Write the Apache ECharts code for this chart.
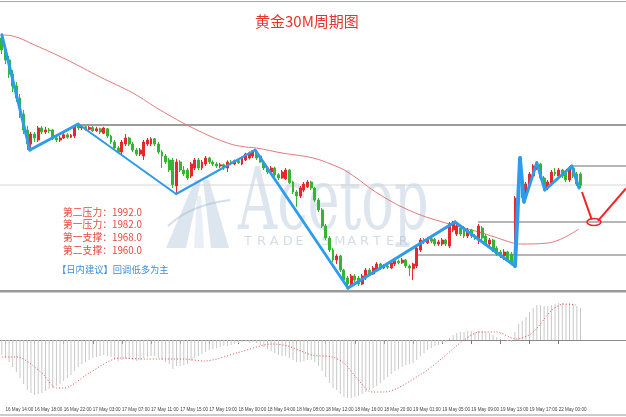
<!DOCTYPE html>
<html><head><meta charset="utf-8">
<script src="https://cdn.jsdelivr.net/npm/echarts@6/dist/echarts.min.js"></script>
<style>html,body{margin:0;padding:0;background:#fff}#c{width:626px;height:417px}</style>
</head><body><div id="c"></div>
<script>
// ---------- data ----------
const titleText = '黄金30M周期图';
// candles: [open, close, low, high]
const candles = [
[2014,2011,2010,2014.8],[2011,2008.5,2007.5,2012],[2008.5,2005,2004,2009.5],[2005,2002,2000.5,2006],
[2002,1999,1998,2003],[1999,1995,1994,2000],[1995,1991,1990,1996],[1991,1987.5,1986,1992],
[1987.5,1990,1986.5,1990.5],[1990,1989,1988,1990.5],[1988.5,1991.5,1988,1992],[1991.5,1990.5,1990,1992],
[1990.5,1991,1990,1991.8],[1991,1990.8,1990.2,1991.5],[1991,1989,1988.5,1991.3],[1989,1988.5,1988,1989.5],
[1988.5,1989,1988,1989.5],[1989,1989.8,1988.8,1990.2],[1989.8,1989.2,1988.8,1990.2],[1989.2,1989.7,1989,1990],
[1989.5,1992,1989,1992.3],[1992,1991.5,1991,1992.5],[1991.5,1991.8,1991,1992.2],[1991.8,1991.2,1990.8,1992],
[1991.2,1991.6,1990.6,1992],[1991.6,1990.8,1990.5,1992],[1990.8,1991.3,1990.5,1991.8],[1991.3,1990.5,1990,1991.6],
[1990.2,1991.5,1990,1991.8],[1991.3,1989.5,1989,1991.5],[1989.5,1988,1987.5,1989.8],[1988,1986.5,1986,1988.5],
[1986.5,1985.5,1985,1987],[1985.5,1988,1985,1988.5],[1987.5,1989,1987,1990],[1989,1987.5,1987,1989.3],
[1987.5,1986,1985.5,1988],[1986,1985,1984.5,1986.5],[1985,1986,1984.5,1986.5],[1984.5,1988,1983.5,1988.5],
[1987.5,1988.5,1987,1989],[1987.5,1988.8,1987,1989.2],[1988.8,1987.5,1987,1989],[1987.5,1985.5,1985,1988],
[1985.5,1984.5,1981.5,1986],[1984.5,1983,1982.5,1985],[1983.5,1981,1980.5,1984],[1983.5,1977.3,1976.5,1984],
[1977,1983,1975,1983.8],[1983,1981,1980.5,1983.5],[1981,1980,1979.5,1982],[1981,1979,1978.5,1981.5],
[1979.5,1982.5,1979,1983],[1981.5,1983.5,1981,1984],[1983.5,1981.5,1981,1984],[1981.5,1983,1981,1983.5],
[1982.5,1984,1982,1984.5],[1984,1983,1982.5,1984.3],[1983,1982.5,1982,1983.4],[1982.5,1982,1981.5,1983],
[1982,1982.3,1981.5,1982.8],[1982.3,1981.5,1981,1982.6],[1981.5,1983,1980.5,1983.4],[1983,1982.8,1982.3,1983.5],
[1982.5,1983.3,1982.2,1983.6],[1983.3,1982.8,1982.5,1983.6],[1982.5,1984,1982.2,1984.3],[1983.5,1985,1983.2,1985.3],
[1984,1985.3,1983.6,1985.6],[1984.5,1985.8,1984,1986],[1985.5,1984,1983.5,1985.8],[1984.5,1983,1982.8,1984.8],
[1983,1981.5,1981,1983.3],[1981.5,1980.5,1980,1981.8],[1980.5,1981.5,1980,1982],[1981.5,1979.8,1979.2,1981.8],
[1979.8,1979,1978.5,1980.2],[1979,1980.5,1978.8,1981],[1978.8,1981,1978.5,1981.5],[1981,1977.8,1977.5,1981.2],
[1978,1975.5,1975,1978.3],[1975.5,1974.5,1971.8,1976],[1974.5,1976.5,1974,1977],[1976,1977.5,1975.5,1978],
[1976.8,1978,1976.5,1978.5],[1978,1976.5,1976,1978.3],[1976.5,1973.5,1973,1976.8],[1973.5,1971,1970.5,1974],
[1971,1967,1966.5,1971.5],[1967,1964,1963.5,1967.5],[1964,1961,1960.5,1964.5],[1961,1958.5,1958,1961.5],
[1958.5,1959.5,1957.5,1960],[1959.5,1956,1955.5,1959.8],[1956,1953.5,1953,1956.3],[1954,1952.5,1951.5,1954.5],
[1952.5,1954.5,1952,1955],[1954.5,1953.5,1953,1955],[1954,1952.5,1952,1954.5],[1952.5,1954.5,1952.2,1955],
[1954,1956,1953.5,1956.5],[1956,1955,1954.5,1956.5],[1955,1956.5,1954.8,1957],[1956,1957.5,1955.5,1958],
[1957.5,1956.5,1956,1957.8],[1956.5,1957,1956.2,1957.5],[1957,1956.7,1956.2,1957.5],[1956.5,1957.8,1956.2,1958.2],
[1957.5,1958.3,1957,1958.6],[1958.2,1957.8,1957.4,1958.6],[1957.8,1958.5,1957.5,1959],[1958.5,1957,1956.5,1958.8],
[1957,1956.5,1954.5,1957.4],[1956.3,1957.5,1953.5,1957.8],[1957,1961.5,1956.5,1962],[1961,1963.5,1960.5,1964],
[1963.5,1963,1962.5,1964],[1962.8,1963.8,1962.5,1964.3],[1963.8,1963.2,1962.7,1964.2],[1963.6,1962.5,1962,1964],
[1962.5,1963,1962,1963.5],[1962.5,1963.5,1962,1964],[1963.5,1962.5,1962,1963.8],[1962,1967.5,1961.5,1968],
[1966,1967.8,1965.5,1968.3],[1965,1967,1964.5,1967.5],[1966.5,1965,1964.5,1967],[1966.5,1964.5,1964,1967],
[1964.5,1966,1964,1966.5],[1966,1964.5,1964,1966.3],[1964.5,1964,1963.5,1965],[1963.5,1967,1962.5,1967.5],
[1966.5,1964,1963.5,1967],[1964.5,1962.5,1962,1965],[1962.5,1963.5,1962,1964],[1963.5,1961,1960.5,1963.8],
[1961.5,1960,1959.5,1962],[1960.5,1959.5,1959,1961],[1959.5,1960.5,1958.5,1961.2],[1960.5,1958.5,1958,1960.8],
[1960,1957.8,1957.2,1960.5],[1957.8,1974,1957,1974.5],[1973.5,1978,1973,1984],[1977.5,1974,1973,1978],
[1974,1977.5,1973.5,1978],[1977,1980,1976.5,1980.5],[1979.5,1982,1979,1982.5],[1981.5,1982.5,1981,1983],
[1982.5,1979,1978.5,1982.8],[1979,1976.5,1976,1979.5],[1976.5,1978,1976,1978.5],[1977.5,1980.5,1977,1981],
[1980.5,1980,1979.5,1981.5],[1979.5,1981,1979,1981.5],[1981,1979.5,1979,1981.3],[1980.5,1978.5,1978,1981],
[1978.5,1981.5,1978,1982],[1981.5,1979.5,1979,1982],[1980,1977.5,1977,1980.5],[1980,1977.2,1976.5,1980.5]
];
// moving average read at points: [bar index, price]
const maPoints = [[0,2014.75],[3,2014.5],[9,2012.25],[18,2008.5],[27,2004.25],[36,2000.25],[43.5,1996],[52.5,1991.5],
[62,1987.75],[67,1986.75],[70,1986.5],[77,1985.25],[85.5,1984],[91,1982.25],[95,1980.5],[104,1974.75],[113,1970.5],
[122,1967.75],[132,1965.25],[140.5,1962.75],[142.5,1962.5],[150,1962.75],[158.5,1966.25]];
// blue swing line vertices: [bar index, price]
const swingPoints = [[0,2014.8],[7.7,1986],[21,1992.5],[47.9,1975],[69.6,1986],[95.1,1951.5],[124.5,1968],
[141,1957],[142.4,1984],[143.5,1973],[147,1982.8],[149.2,1976],[156.6,1982],[158.6,1976.5]];
const swingWidths = [3,3,2,2.2,2.8,3.2,3,4,3.5,3,3,3,3];
// horizontal levels: start bar index, price
const levelStarts = [21.5, -0.5, 156.6, 130.8, 113.8];
const levelPrices = [1992.25, 1977.25, 1982, 1968, 1959.75];
// projected red path
const projDown = [[159.4,1975.5],[162.1,1968.6]];
const projUp = [[163.8,1968.3],[171.5,1976.4]];
const targetPoint = [162.7, 1968];
// MACD histogram per bar
const macdHist = [-1.5,-1.8,-2.2,-2.7,-3.2,-3.8,-4.4,-5.0,-5.3,-5.5,-5.4,-5.3,-5.1,-4.9,-4.8,-4.6,-4.4,-4.1,-3.8,-3.5,
-3.1,-2.7,-2.4,-2.2,-2.0,-1.8,-1.7,-1.6,-1.5,-1.6,-1.7,-1.9,-2.1,-2.0,-1.9,-1.9,-2.0,-2.1,-2.0,-1.8,
-1.7,-1.6,-1.6,-1.8,-2.0,-2.2,-2.4,-2.9,-2.6,-2.6,-2.5,-2.4,-2.1,-1.8,-1.6,-1.4,-1.2,-1.0,-0.9,-0.8,
-0.7,-0.6,-0.6,-0.5,-0.4,-0.3,-0.2,-0.15,-0.3,-0.2,-0.3,-0.5,-0.7,-0.9,-1.1,-1.3,-1.5,-1.6,-1.6,-1.8,
-2.0,-2.2,-2.2,-2.1,-2.0,-2.0,-2.2,-2.6,-3.1,-3.7,-4.3,-4.8,-5.0,-5.4,-5.7,-5.8,-5.8,-5.7,-5.6,-5.4,
-5.2,-5.0,-4.8,-4.6,-4.3,-4.0,-3.7,-3.4,-3.1,-2.9,-2.7,-2.5,-2.4,-2.3,-2.0,-1.6,-1.3,-1.0,-0.8,-0.6,
-0.5,-0.3,-0.2,0.2,0.5,0.7,0.8,0.8,0.9,0.9,0.8,0.9,0.9,0.8,0.7,0.5,0.3,0.1,0.0,-0.1,
-0.2,0.8,1.6,1.9,2.3,2.8,3.2,3.5,3.5,3.4,3.4,3.5,3.6,3.7,3.7,3.6,3.7,3.6,3.4,3.2];
// MACD signal read at points: [bar index, value]
const signalPoints = [[0,-1.7],[4,-1.7],[11,-3.3],[15,-4.8],[17,-4.8],[24,-3.3],[32.5,-1.8],[39,-1.9],[50,-1.9],
[55.5,-2.1],[65.5,-1.2],[74.2,-0.4],[78.6,-0.6],[85.2,-1.5],[90.7,-1.7],[94,-2.3],[97.3,-3.7],[101.7,-5.2],[105,-5.2],
[114.9,-3.5],[120.4,-2],[127,0],[131.4,0.8],[135.8,0.8],[141.3,0.1],[145.7,0.7],[151.2,3],[154.5,3.6],[157.7,3.5]];
// time tick labels and their bar indices
const timeLabels = ['16 May 14:00','16 May 18:00','16 May 22:00','17 May 03:00','17 May 07:00','17 May 11:00',
'17 May 15:00','17 May 19:00','18 May 00:00','18 May 04:00','18 May 08:00','18 May 12:00','18 May 16:00',
'18 May 20:00','19 May 01:00','19 May 05:00','19 May 09:00','19 May 13:00','19 May 17:00','22 May 00:00'];
const labelBars = timeLabels.map((_, k) => 1 + 8 * k);
const totalSlots = 172;
const levels = ['第二压力：1992.0','第一压力：1982.0','第一支撑：1968.0','第二支撑：1960.0'];
const advice = '【日内建议】回调低多为主';
const watermark = 'Acetop';
const watermarkSub = 'TRADE SMARTER';

// ---------- chart ----------
const cats = [];
for (let i = 0; i < totalSlots; i++) {
  const k = labelBars.indexOf(i);
  cats.push(k >= 0 ? timeLabels[k] : 'b' + i);
}
const isLabel = (i) => labelBars.indexOf(i) >= 0;

const series = [];
series.push({
  type: 'candlestick', xAxisIndex: 0, yAxisIndex: 0, data: candles, barWidth: 2.4, z: 3,
  itemStyle: { color: '#e8262b', color0: '#35b533', borderColor: '#e8262b', borderColor0: '#35b533', borderWidth: 1 }
});
series.push({
  type: 'line', xAxisIndex: 1, yAxisIndex: 0, data: maPoints, smooth: 0.4, symbol: 'none', z: 2,
  lineStyle: { color: '#e47a7a', width: 1 }
});
levelStarts.forEach((s, i) => {
  const first = i === 0, cur = i === 1;
  series.push({
    type: 'line', xAxisIndex: 1, yAxisIndex: 0, symbol: 'none', z: 1,
    data: [[s, levelPrices[i]], [totalSlots - 0.5, levelPrices[i]]],
    lineStyle: { color: cur ? '#d6d6d6' : '#9c9c9c', width: first ? 2 : (cur ? 1 : 1.5) }
  });
});
for (let i = 0; i < swingPoints.length - 1; i++) {
  series.push({
    type: 'line', xAxisIndex: 1, yAxisIndex: 0, symbol: 'none', z: 4,
    data: [swingPoints[i], swingPoints[i + 1]],
    lineStyle: { color: '#2e9cec', width: swingWidths[i], cap: 'round' }
  });
}
[projDown, projUp].forEach(p => series.push({
  type: 'line', xAxisIndex: 1, yAxisIndex: 0, symbol: 'none', z: 5, data: p,
  lineStyle: { color: '#f22424', width: 2 }
}));
series.push({
  type: 'custom', xAxisIndex: 1, yAxisIndex: 0, z: 5, data: [targetPoint],
  renderItem: (params, api) => {
    const p = api.coord([api.value(0), api.value(1)]);
    return { type: 'ellipse', shape: { cx: p[0], cy: p[1], rx: 7, ry: 3.5 },
      style: { fill: 'rgba(255,255,255,0)', stroke: '#f22424', lineWidth: 1.5 } };
  }
});
series.push({
  type: 'bar', xAxisIndex: 2, yAxisIndex: 1, data: macdHist, barWidth: 1,
  itemStyle: { color: '#c8c8c8' }
});
series.push({
  type: 'line', xAxisIndex: 3, yAxisIndex: 1, data: signalPoints, smooth: 0.3, symbol: 'none',
  lineStyle: { color: '#e05050', width: 1, type: [1, 2] }
});

const graphics = [];
// frame lines
graphics.push({ type: 'rect', shape: { x: 0, y: 1, width: 626, height: 1 }, style: { fill: '#a8a8a8' }, z: 10 });
graphics.push({ type: 'rect', shape: { x: 0, y: 290, width: 626, height: 2.5 }, style: { fill: '#9a9a9a' }, z: 10 });
graphics.push({ type: 'rect', shape: { x: 0, y: 414.5, width: 626, height: 1 }, style: { fill: '#9a9a9a' }, z: 10 });
// watermark logo
const wm = 'rgba(160,184,212,0.36)';
graphics.push({ type: 'polygon', z: -1, silent: true, shape: { points: [[166,248],[195,180],[201,180],[186,248]] }, style: { fill: wm } });
graphics.push({ type: 'polygon', z: -1, silent: true, shape: { points: [[203,180],[209,180],[229,248],[211,248]] }, style: { fill: wm } });
graphics.push({ type: 'polygon', z: -1, silent: true, shape: { points: [[197,196],[201,196],[204,248],[194,248]] }, style: { fill: 'rgba(160,184,212,0.22)' } });
graphics.push({ type: 'bezierCurve', z: -1, silent: true, shape: { x1: 168, y1: 226, x2: 230, y2: 200, cpx1: 190, cpy1: 205 }, style: { stroke: 'rgba(160,184,212,0.45)', lineWidth: 2, fill: 'none' } });
graphics.push({ type: 'text', z: -1, silent: true, x: 238, y: 207, scaleX: 0.63,
  style: { text: watermark, font: '86px "DejaVu Serif"', fill: wm, verticalAlign: 'middle', align: 'left' } });
watermarkSub.split('').forEach((ch, i) => graphics.push({ type: 'text', z: -1, silent: true, x: 244 + i * 12.9, y: 242,
  style: { text: ch, font: '13px "DejaVu Sans"', fill: 'rgba(160,178,200,0.45)', verticalAlign: 'middle', align: 'left' } }));
// annotation texts
levels.forEach((t, i) => graphics.push({ type: 'text', z: 20, x: 63, y: 212 + i * 12.7,
  style: { text: t, font: '9.8px "Noto Sans CJK SC"', fill: '#e6483f', verticalAlign: 'middle', align: 'left' } }));
graphics.push({ type: 'text', z: 20, x: 57, y: 269,
  style: { text: advice, font: '9.3px "Noto Sans CJK SC"', fill: '#3c8fdc', verticalAlign: 'middle', align: 'left' } });

const option = {
  animation: false,
  backgroundColor: '#fff',
  title: { text: titleText, left: 250, top: 9, textStyle: { color: '#e8322c', fontSize: 15, fontWeight: 'normal', fontFamily: 'Noto Sans CJK SC' } },
  grid: [
    { left: 0, right: 0, top: 2, height: 288 },
    { left: 0, right: 0, top: 293, height: 112 }
  ],
  xAxis: [
    { type: 'category', gridIndex: 0, data: cats, boundaryGap: true, show: false },
    { type: 'value', gridIndex: 0, min: -0.5, max: totalSlots - 0.5, show: false },
    { type: 'category', gridIndex: 1, data: cats, boundaryGap: true,
      axisLine: { show: true, lineStyle: { color: '#8a8a8a', width: 1 } },
      axisTick: { show: true, interval: (i) => isLabel(i), alignWithLabel: true, length: 4, lineStyle: { color: '#777' } },
      axisLabel: { show: true, interval: (i) => isLabel(i), fontSize: 4.6, color: '#444', align: 'left', margin: 2.5, fontFamily: 'Liberation Sans',
        formatter: (v) => v.charAt(0) === 'b' ? '' : v } },
    { type: 'value', gridIndex: 1, min: -0.5, max: totalSlots - 0.5, show: false }
  ],
  yAxis: [
    { type: 'value', gridIndex: 0, min: 1951, max: 2023, show: false, splitLine: { show: false } },
    { type: 'value', gridIndex: 1, min: -6.5, max: 4.7, show: false, splitLine: { show: false } }
  ],
  graphic: graphics,
  series: series
};
const chart = echarts.init(document.getElementById('c'), null, { renderer: 'canvas' });
chart.setOption(option);
</script></body></html>
